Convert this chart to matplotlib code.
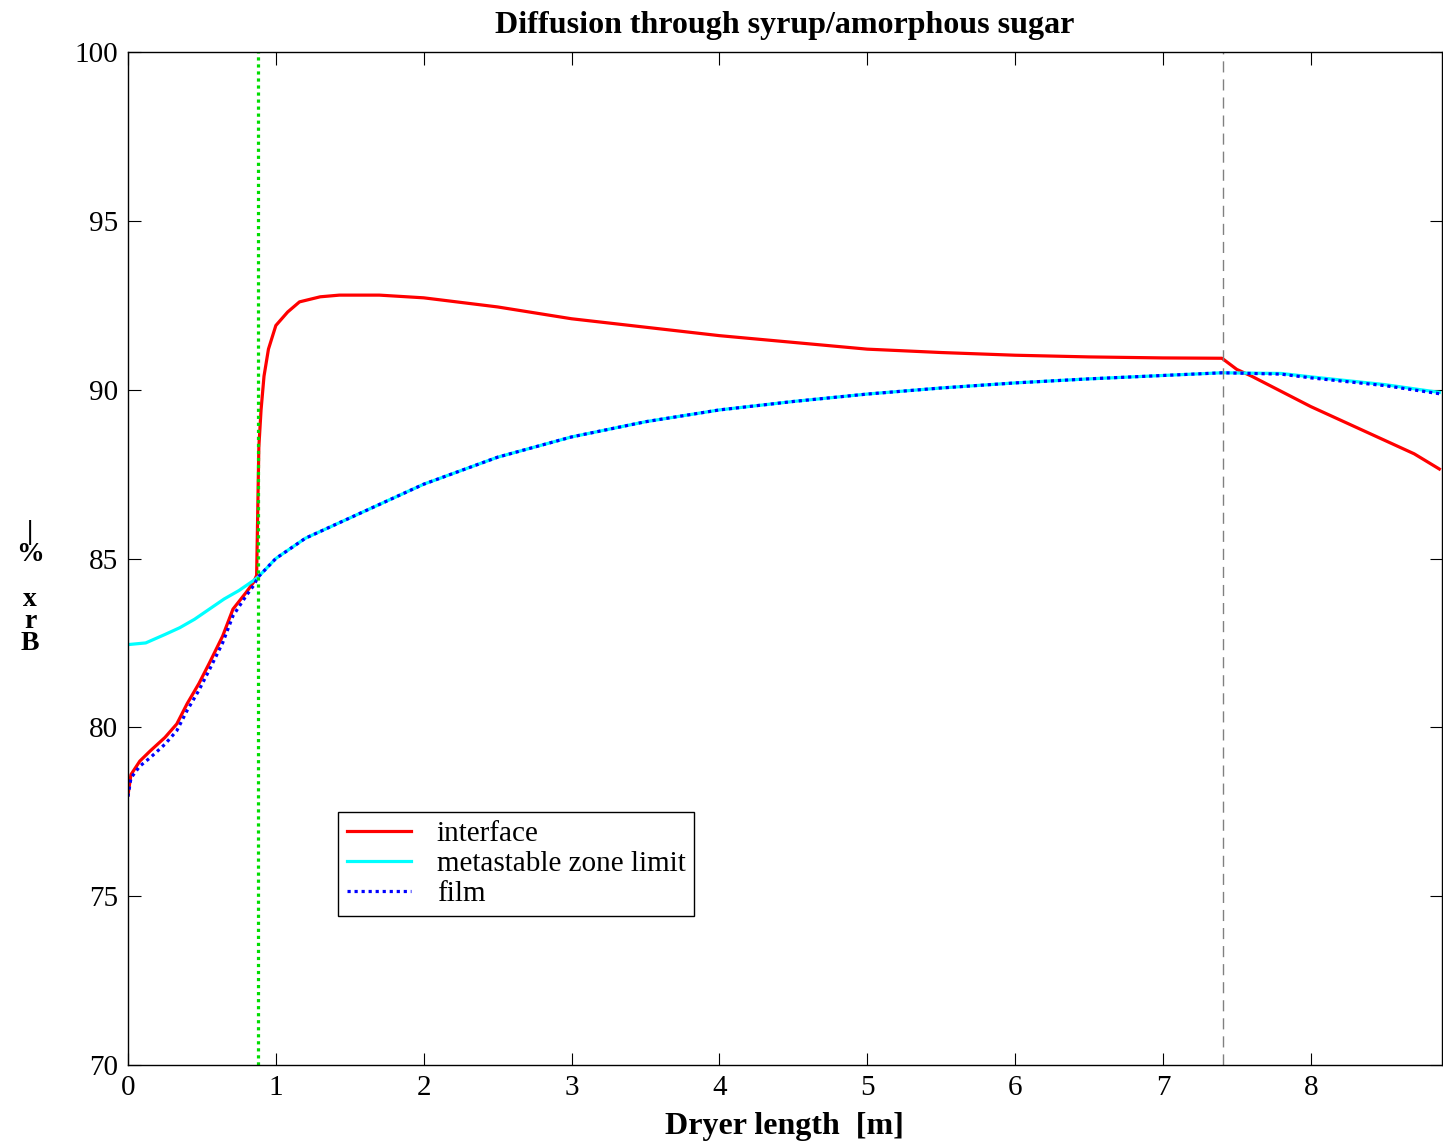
import matplotlib.pyplot as plt
import numpy as np

plt.rcParams['font.family'] = ['Liberation Serif', 'DejaVu Serif']

# interface
x_int = [0.0, 0.02, 0.08, 0.15, 0.25, 0.33, 0.40, 0.48, 0.55, 0.64, 0.71, 0.80, 0.85, 0.87,
         0.878, 0.885, 0.90, 0.92, 0.95, 1.0, 1.08, 1.16, 1.3, 1.43, 1.7, 2.0, 2.5, 3.0, 3.5,
         4.0, 4.5, 5.0, 5.5, 6.0, 6.5, 7.0, 7.4, 7.5, 7.6, 7.8, 8.0, 8.2, 8.5, 8.7, 8.87]
y_int = [78.0, 78.6, 79.0, 79.3, 79.7, 80.1, 80.7, 81.3, 81.9, 82.7, 83.5, 84.0, 84.3, 84.5,
         86.5, 88.3, 89.4, 90.4, 91.2, 91.9, 92.3, 92.6, 92.75, 92.8, 92.8, 92.72, 92.45, 92.1, 91.85,
         91.6, 91.4, 91.2, 91.1, 91.02, 90.97, 90.94, 90.93, 90.6, 90.4, 89.95, 89.5, 89.1, 88.5, 88.1, 87.65]

# metastable zone limit
x_met = [0.0, 0.12, 0.25, 0.35, 0.45, 0.55, 0.65, 0.75, 0.85, 0.88, 1.0, 1.2, 1.5, 2.0, 2.5, 3.0,
         3.5, 4.0, 4.5, 5.0, 5.5, 6.0, 6.5, 7.0, 7.4, 7.8, 8.0, 8.5, 8.87]
y_met = [82.45, 82.5, 82.75, 82.95, 83.2, 83.5, 83.8, 84.05, 84.35, 84.45, 85.0, 85.6, 86.2, 87.2, 88.0, 88.6,
         89.05, 89.4, 89.65, 89.87, 90.05, 90.2, 90.32, 90.42, 90.5, 90.48, 90.38, 90.15, 89.92]

# film
x_film = [0.0, 0.02, 0.08, 0.15, 0.25, 0.33, 0.40, 0.48, 0.55, 0.64, 0.71, 0.80, 0.85, 0.88,
          1.0, 1.2, 1.5, 2.0, 2.5, 3.0, 3.5, 4.0, 4.5, 5.0, 5.5, 6.0, 6.5, 7.0, 7.4, 7.8, 8.0, 8.5, 8.87]
y_film = [77.95, 78.5, 78.85, 79.1, 79.5, 79.9, 80.5, 81.1, 81.7, 82.5, 83.3, 83.9, 84.2, 84.45,
          85.0, 85.6, 86.2, 87.2, 88.0, 88.6, 89.05, 89.4, 89.65, 89.87, 90.05, 90.2, 90.32, 90.42, 90.5, 90.46, 90.35, 90.12, 89.88]

x_green = 0.878
x_gray = 7.405

fig = plt.figure(figsize=(14.43, 11.46), dpi=100)
ax = fig.add_axes([128/1443, 1 - 1065/1146, 1 - 128/1443 - 0.001, (1065 - 52)/1146])

ax.plot(x_int, y_int, color='red', lw=2.3, label='interface')
ax.plot(x_met, y_met, color='cyan', lw=2.3, label='metastable zone limit')
ax.plot(x_film, y_film, color='blue', lw=2.3, ls=(0, (1, 1.2)), label='film')
ax.axvline(x_green, color='#00dd00', lw=2.3, ls=(0, (1, 1.2)))
ax.axvline(x_gray, color='gray', lw=1.0, ls=(0, (8, 5)))

ax.set_xlim(0, 8.885)
ax.set_ylim(70, 100)
ax.set_xticks(range(0, 9))
ax.set_yticks(range(70, 101, 5))
ax.tick_params(direction='in', length=9, top=True, right=True, labelsize=21, pad=7)
for s in ax.spines.values():
    s.set_linewidth(1.0)

ax.set_title('Diffusion through syrup/amorphous sugar', fontsize=23, fontweight='bold', pad=14)
ax.set_xlabel('Dryer length  [m]', fontsize=23, fontweight='bold', labelpad=8)

# stacked y label, as in the original
fig.text(30/1443, 1 - 588/1146, '|\n%\n\nx\nr\nB', fontsize=20, fontweight='bold',
         ha='center', va='center', linespacing=0.85, multialignment='center')

leg = ax.legend(loc='upper left', bbox_to_anchor=((338-128)/1315, (1065-812)/1013),
                borderaxespad=0, fontsize=21, fancybox=False, framealpha=1, edgecolor='black',
                handlelength=2.2, borderpad=0.3, labelspacing=0.12, handletextpad=0.9)
leg.get_frame().set_linewidth(1.0)

plt.savefig('out.png', dpi=100)
